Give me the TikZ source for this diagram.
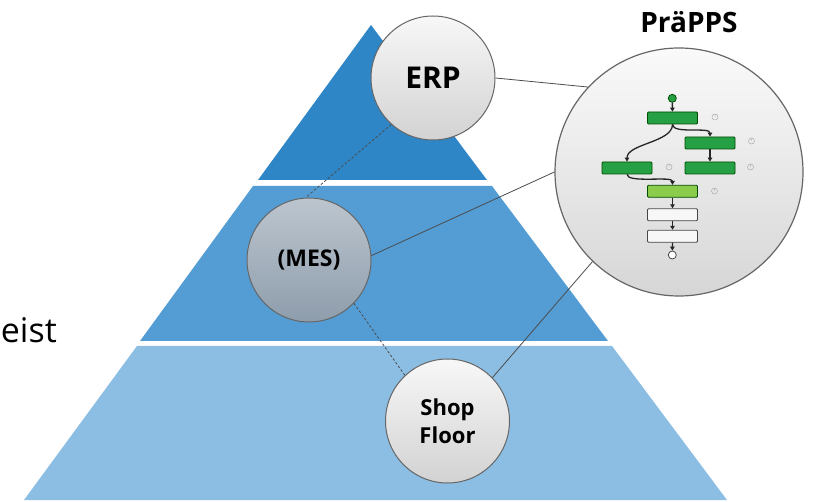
\documentclass[tikz,border=0pt]{standalone}
\usepackage{fontspec}
\setmainfont{Open Sans}
\usetikzlibrary{arrows.meta,positioning}
\definecolor{topblue}{RGB}{46,134,199}
\definecolor{midblue}{RGB}{84,157,212}
\definecolor{lowblue}{RGB}{140,190,228}
\definecolor{mestop}{RGB}{188,197,206}
\definecolor{mesbottom}{RGB}{142,157,172}
\definecolor{boxgreen}{RGB}{38,160,68}
\definecolor{lightgreen}{RGB}{140,204,76}
\begin{document}
\begin{tikzpicture}[x=1pt, y=-1pt, thick,
    main/.style = {draw=black!60, circle, line width=1pt, minimum size=124pt, inner sep=0pt, top color=gray!6, bottom color=gray!35},
    link/.style = {draw=black!70, line width=0.8pt},
    dlink/.style = {link, dash pattern=on 2.5pt off 2pt},
    wfbox/.style = {draw=green!30!black, fill=boxgreen, minimum width=50pt, minimum height=12pt, inner sep=0pt, rounded corners=1pt, line width=0.8pt},
    flow/.style = {-{Triangle[length=4pt,width=4.5pt]}, line width=1.3pt, black!85}]
    \useasboundingbox (0,0) rectangle (817,502);
    % pyramid
    \fill[lowblue] (24,500) -- (137,346) -- (612,346) -- (727,500) -- cycle;
    \fill[midblue] (140,341) -- (253,186) -- (492,186) -- (608,341) -- cycle;
    \fill[topblue] (258,180) -- (371,25) -- (487,180) -- cycle;
    \node[anchor=base west, inner sep=0pt, font=\fontsize{34}{40}\selectfont] (word) at (0.5,343) {eist};
    % levels
    \node[main, font=\fontsize{30}{34}\selectfont\bfseries] (erp) at (433,78) {ERP};
    \node[main, top color=mestop, bottom color=mesbottom, font=\fontsize{23}{27}\selectfont\bfseries] (mes) at (309,260) {(MES)};
    \node[main, align=center, font=\fontsize{22}{28}\selectfont\bfseries] (shop) at (447.5,421) {Shop\\Floor};
    \node[main, minimum size=248pt, line width=1.2pt, top color=gray!4, bottom color=gray!32] (prapps) at (679,172) {};
    \node[font=\fontsize{28}{32}\selectfont\bfseries] (title) at (689,22) {PräPPS};
    \draw[dlink] (erp.228) -- (mes.93);
    \draw[dlink] (mes.-44) -- (shop.133);
    \draw[link] (erp.east) -- (prapps.137);
    \draw[link] (mes.4) -- (prapps.west);
    \draw[link] (shop.44) -- (prapps.226);
    % process inside
    \node[circle, draw=green!30!black, fill=boxgreen, minimum size=8pt, inner sep=0pt] (start) at (672.3,98.3) {};
    \node[wfbox] (b1) at (672.5,118) {};
    \node[wfbox] (b2) at (710,143) {};
    \node[wfbox] (b3) at (710,168) {};
    \node[wfbox] (b4) at (627,168) {};
    \node[wfbox, fill=lightgreen] (b5) at (672.5,191.3) {};
    \node[wfbox, fill=gray!6, draw=gray!55!black] (b6) at (672.5,214.7) {};
    \node[wfbox, fill=gray!6, draw=gray!55!black] (b7) at (672.5,236.2) {};
    \node[circle, draw=gray!55!black, fill=white, minimum size=8pt, inner sep=0pt] (stop) at (672.3,255) {};
    \draw[flow] (start) -- (b1);
    \draw[flow] (b1.south) .. controls +(0,10) and +(0,-10) .. (b2.north);
    \draw[flow] (b1.south) .. controls +(0,18) and +(0,-18) .. (b4.north);
    \draw[flow] (b2) -- (b3);
    \draw[flow] (b4.south) .. controls +(0,9) and +(0,-9) .. (b5.north);
    \draw[flow] (b5) -- (b6);
    \draw[flow] (b6) -- (b7);
    \draw[flow] (b7) -- (stop);
    \foreach \x/\y in {715/117, 751.5/141, 750.5/167, 669/167, 714.5/191}
        \draw[gray!65, line width=0.5pt] (\x,\y) circle (3pt) -- +(0,-2.2);
\end{tikzpicture}
\end{document}
